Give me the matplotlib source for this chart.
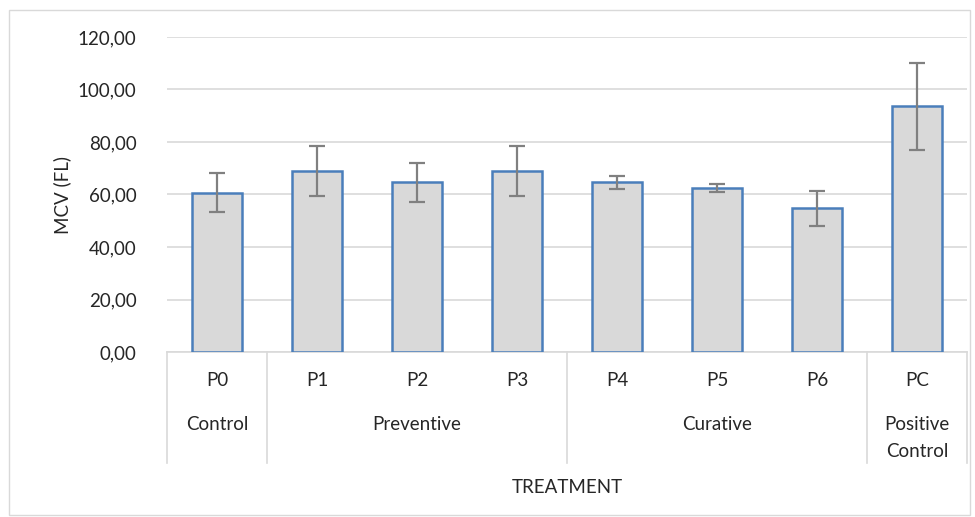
"""MCV per treatment group, bar chart with error bars and a two-level category axis."""

import matplotlib
matplotlib.use("Agg")
import matplotlib.pyplot as plt
from matplotlib.patches import Rectangle
from matplotlib.ticker import FuncFormatter

# data
treatments = ["P0", "P1", "P2", "P3", "P4", "P5", "P6", "PC"]
mcv_values = [60.6, 69.0, 64.6, 69.0, 64.6, 62.6, 54.7, 93.6]
mcv_errors = [7.4, 9.6, 7.4, 9.6, 2.5, 1.5, 6.7, 16.6]
groups = ["Control", "Preventive", "Curative", "Positive\nControl"]
group_sizes = [1, 3, 3, 1]
y_ticks = [0, 20, 40, 60, 80, 100, 120]


def main():
    plt.rcParams['font.family'] = ['Lato', 'DejaVu Sans']
    plt.rcParams['font.size'] = 13.5

    fig = plt.figure(figsize=(9.75, 5.17), dpi=100)
    fig.patches.append(Rectangle((9 / 975, 2 / 517), 961 / 975, 505 / 517, transform=fig.transFigure,
                                 fill=False, edgecolor="#d9d9d9", linewidth=1))
    ax = fig.add_axes([167 / 975, 165 / 517, 800 / 975, 315 / 517])

    x = list(range(len(treatments)))
    ax.bar(x, mcv_values, width=0.5, color="#d9d9d9", edgecolor="#4a7ebb", linewidth=1.8, zorder=3)
    ax.errorbar(x, mcv_values, yerr=mcv_errors, fmt="none", ecolor="#808080", elinewidth=1.6,
                capsize=6, capthick=1.6, zorder=4)

    ax.set_xlim(-0.5, len(treatments) - 0.5)
    ax.set_ylim(0, 120)
    ax.set_yticks(y_ticks)
    ax.yaxis.set_major_formatter(FuncFormatter(lambda v, p: f"{v:.2f}".replace(".", ",")))
    ax.tick_params(axis="y", length=0, pad=22, labelcolor="#262626")
    ax.set_xticks([])
    ax.grid(axis="y", color="#d9d9d9", linewidth=1.2, zorder=0)
    for side in ["top", "right", "left"]:
        ax.spines[side].set_visible(False)
    ax.spines["bottom"].set_color("#d9d9d9")
    ax.spines["bottom"].set_linewidth(1.2)
    ax.set_ylabel("MCV (FL)", color="#262626", labelpad=5)

    # two-level category axis
    trans = ax.get_xaxis_transform()
    for i, name in enumerate(treatments):
        ax.text(i, -0.089, name, transform=trans, ha="center", va="center", color="#262626")

    start = -0.5
    boundaries = [start]
    for name, size in zip(groups, group_sizes):
        center = start + size / 2
        if "\n" in name:
            ax.text(center, -0.273, name, transform=trans, ha="center", va="center",
                    color="#262626", linespacing=1.65)
        else:
            ax.text(center, -0.229, name, transform=trans, ha="center", va="center", color="#262626")
        start += size
        boundaries.append(start)
    for b in boundaries:
        ax.plot([b, b], [0, -0.352], transform=trans, color="#d9d9d9", linewidth=1.2, clip_on=False)

    ax.text(0.5, -0.429, "TREATMENT", transform=ax.transAxes, ha="center", va="center", color="#262626")

    fig.savefig("out.png", dpi=100)


if __name__ == "__main__":
    main()
